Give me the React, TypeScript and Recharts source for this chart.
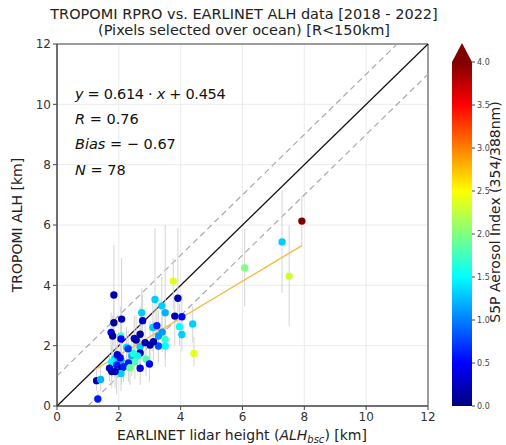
import {
  ScatterChart,
  Scatter,
  XAxis,
  YAxis,
  CartesianGrid,
  ReferenceLine,
  ReferenceArea,
  ErrorBar,
  Cell,
} from "recharts";

// EARLINET lidar height [km]
const lidarAlh = [
  1.84, 3.76, 3.91, 3.17, 2.74, 3.5, 1.84, 2.09, 1.75, 1.8, 2.06, 2.07, 2.69,
  2.5, 2.56, 3.1, 3.23, 3.81, 4.04, 4.39, 3.96, 4.04, 3.28, 3.5, 3.5, 3.28,
  3.01, 3.12, 2.69, 2.69, 2.42, 2.6, 2.88, 2.99, 2.69, 2.52, 2.31, 2.07, 1.88,
  1.77, 1.93, 2.09, 1.77, 2.07, 1.88, 1.28, 1.41, 1.32, 4.43, 7.92, 7.28, 6.07,
  7.51, 2.77, 3.39, 2.47, 2.04, 2.15, 2.36, 2.25, 1.95, 2.85, 3.4, 2.3, 1.7,
];
// TROPOMI ALH [km]
const tropomiAlh = [
  3.68, 4.14, 3.57, 3.53, 3.09, 3.09, 2.76, 2.88, 2.44, 2.32, 2.32, 2.22, 2.38,
  2.24, 2.19, 2.6, 2.66, 2.98, 2.96, 2.72, 2.63, 2.37, 2.32, 2.21, 1.99, 1.99,
  2.02, 2.13, 1.96, 1.76, 1.66, 1.66, 1.55, 1.39, 1.25, 1.47, 1.43, 1.52, 1.58,
  1.47, 1.36, 1.25, 1.14, 1.08, 1.14, 0.84, 0.88, 0.23, 1.74, 6.13, 5.44, 4.58,
  4.3, 2.83, 3.32, 1.74, 1.6, 1.3, 1.27, 1.95, 1.7, 2.1, 2.45, 1.9, 1.25,
];
// TROPOMI ALH lower / upper bound [km]
const tropomiLow = [
  2.4, 3.2, 2.6, 2.5, 2.2, 2.1, 2.0, 1.0, 1.8, 1.6, 1.7, 1.5, 1.7, 1.6, 1.5,
  1.8, 1.9, 2.0, 2.2, 2.1, 2.0, 1.8, 1.6, 1.6, 1.3, 1.4, 1.3, 1.5, 1.3, 1.1,
  1.0, 1.1, 1.0, 0.8, 0.7, 0.9, 0.8, 0.9, 1.0, 0.9, 0.4, 0.7, 0.6, 0.5, 0.6,
  0.5, 0.5, 0.1, 1.3, 5.3, 3.75, 3.3, 2.65, 2.2, 2.5, 1.2, 1.0, 0.8, 0.7, 1.3,
  1.2, 1.5, 1.8, 1.3, 0.8,
];
const tropomiHigh = [
  5.33, 4.9, 5.9, 5.9, 3.9, 6.0, 3.5, 4.9, 3.1, 3.0, 3.3, 2.9, 3.3, 3.0, 3.0,
  3.6, 3.5, 3.6, 3.7, 3.3, 3.4, 3.0, 3.2, 2.9, 2.7, 2.6, 2.8, 2.8, 2.6, 2.4,
  2.3, 2.4, 2.2, 2.0, 1.8, 2.1, 2.1, 2.2, 2.2, 2.0, 2.0, 1.9, 1.7, 1.8, 1.7,
  1.2, 1.3, 0.5, 2.3, 6.95, 7.15, 5.88, 5.99, 3.7, 4.3, 2.3, 2.2, 1.9, 1.8,
  2.6, 2.3, 2.8, 3.1, 2.5, 1.7,
];
// S5P Aerosol Index (354/388nm)
const aerosolIndex = [
  0.2, 2.4, 0.2, 1.3, 1.3, 1.2, 0.1, 0.2, 0.4, 0.1, 1.7, 0.5, 0.1, 0.4, 0.1,
  1.3, 0.6, 0.2, 0.5, 1.3, 1.5, 1.3, 1.1, 1.7, 1.5, 0.8, 0.1, 0.2, 1.3, 0.2,
  1.2, 1.5, 1.8, 0.5, 0.4, 1.8, 0.6, 1.2, 1.3, 1.5, 0.6, 0.1, 0.1, 1.3, 0.2,
  0.2, 1.2, 0.6, 2.4, 4.0, 1.3, 2.0, 2.3, 0.3, 1.3, 1.6, 0.5, 0.6, 1.9, 1.4,
  0.3, 0.2, 1.1, 0.7, 0.3,
];

const axisTicks = [0, 2, 4, 6, 8, 10, 12];
const colorbarTicks = [0, 0.5, 1, 1.5, 2, 2.5, 3, 3.5, 4];

// linear fit reported in the figure
const fitSlope = 0.614;
const fitIntercept = 0.454;
const fitRange = [1.22, 7.92];

const data = lidarAlh.map((x, i) => ({
  x,
  y: tropomiAlh[i],
  err: [tropomiAlh[i] - tropomiLow[i], tropomiHigh[i] - tropomiAlh[i]],
  ai: aerosolIndex[i],
}));

// matplotlib "jet" approximation
const jet = (v: number) => {
  const t = Math.max(0, Math.min(1, v / 4));
  const c = (k: number) =>
    Math.round(255 * Math.max(0, Math.min(1, 1.5 - Math.abs(4 * t - k))));
  return `rgb(${c(3)},${c(2)},${c(1)})`;
};

const Dot = (props: any) => {
  const { cx, cy, fill } = props;
  if (cx == null || cy == null) return null;
  return <circle cx={cx} cy={cy} r={3.7} fill={fill} />;
};

const font = "DejaVu Sans, sans-serif";
const tickStyle = { fontSize: 12, fill: "#333", fontFamily: font };

// colorbar geometry
const cbX = 452;
const cbW = 20;
const cbTop = 62;
const cbBottom = 406;
const cbY = (v: number) => cbBottom - (v / 4) * (cbBottom - cbTop);

const App = () => {
  return (
    <div
      style={{
        position: "absolute",
        left: 0,
        top: 0,
        width: 506,
        height: 445,
        background: "#fff",
      }}
    >
      <ScatterChart
        width={506}
        height={445}
        margin={{ top: 44, right: 78, bottom: 9, left: 0 }}
      >
        <CartesianGrid stroke="#ececec" ticks={axisTicks} />
        <XAxis
          type="number"
          dataKey="x"
          domain={[0, 12]}
          ticks={axisTicks}
          height={30}
          tick={tickStyle}
          tickSize={4}
          stroke="#444"
        />
        <YAxis
          type="number"
          dataKey="y"
          domain={[0, 12]}
          ticks={axisTicks}
          width={57}
          tick={tickStyle}
          tickSize={4}
          stroke="#444"
        />
        <ReferenceArea
          x1={0}
          x2={12}
          y1={0}
          y2={12}
          fill="none"
          stroke="#444"
          strokeWidth={1}
        />
        <ReferenceLine
          segment={[
            { x: 0, y: 1 },
            { x: 11, y: 12 },
          ]}
          stroke="#aaa"
          strokeDasharray="6 4"
          strokeWidth={1.2}
        />
        <ReferenceLine
          segment={[
            { x: 1, y: 0 },
            { x: 12, y: 11 },
          ]}
          stroke="#aaa"
          strokeDasharray="6 4"
          strokeWidth={1.2}
        />
        <ReferenceLine
          segment={[
            { x: 0, y: 0 },
            { x: 12, y: 12 },
          ]}
          stroke="#111"
          strokeWidth={1.2}
        />
        <Scatter data={data} isAnimationActive={false} shape={<Dot />}>
          <ErrorBar
            dataKey="err"
            direction="y"
            width={0}
            stroke="#d4d4d4"
            strokeWidth={1}
          />
          {data.map((d, i) => (
            <Cell key={`pt-${i}`} fill={jet(d.ai)} />
          ))}
        </Scatter>
        <ReferenceLine
          segment={[
            { x: fitRange[0], y: fitSlope * fitRange[0] + fitIntercept },
            { x: fitRange[1], y: fitSlope * fitRange[1] + fitIntercept },
          ]}
          stroke="#f5b946"
          strokeWidth={1.3}
        />
      </ScatterChart>

      <svg
        width={506}
        height={445}
        style={{ position: "absolute", left: 0, top: 0, pointerEvents: "none" }}
        fontFamily={font}
      >
        <defs>
          <linearGradient id="jet" x1="0" y1="1" x2="0" y2="0">
            <stop offset="0" stopColor="rgb(0,0,128)" />
            <stop offset="0.125" stopColor="rgb(0,0,255)" />
            <stop offset="0.375" stopColor="rgb(0,255,255)" />
            <stop offset="0.625" stopColor="rgb(255,255,0)" />
            <stop offset="0.875" stopColor="rgb(255,0,0)" />
            <stop offset="1" stopColor="rgb(128,0,0)" />
          </linearGradient>
        </defs>
        <text x={244} y={19} textAnchor="middle" fontSize={14.5} fill="#222">
          TROPOMI RPRO vs. EARLINET ALH data [2018 - 2022]
        </text>
        <text x={244} y={35} textAnchor="middle" fontSize={14.5} fill="#222">
          (Pixels selected over ocean) [R&lt;150km]
        </text>

        <g fontSize={14.5} fill="#111">
          <text x={75} y={99} letterSpacing={-0.3}>
            <tspan fontStyle="italic">y</tspan> = 0.614 · <tspan fontStyle="italic">x</tspan> + 0.454
          </text>
          <text x={75} y={124}>
            <tspan fontStyle="italic">R</tspan> = 0.76
          </text>
          <text x={75} y={149}>
            <tspan fontStyle="italic">Bias</tspan> = − 0.67
          </text>
          <text x={75} y={175}>
            <tspan fontStyle="italic">N</tspan> = 78
          </text>
        </g>

        <text x={242} y={440} textAnchor="middle" fontSize={14} fill="#222">
          EARLINET lidar height (<tspan fontStyle="italic">ALH</tspan>
          <tspan fontStyle="italic" fontSize={10} dy={3}>
            bsc
          </tspan>
          <tspan dy={-3}>) [km]</tspan>
        </text>
        <text
          x={0}
          y={0}
          transform="translate(22,225) rotate(-90)"
          textAnchor="middle"
          fontSize={14}
          fill="#222"
        >
          TROPOMI ALH [km]
        </text>

        <rect x={cbX} y={cbTop} width={cbW} height={cbBottom - cbTop} fill="url(#jet)" />
        <polygon
          points={`${cbX},${cbTop} ${cbX + cbW / 2},${cbTop - 19} ${cbX + cbW},${cbTop}`}
          fill="rgb(128,0,0)"
        />
        {colorbarTicks.map((v) => (
          <g key={`cb-${v}`}>
            <line x1={cbX + cbW} x2={cbX + cbW + 3} y1={cbY(v)} y2={cbY(v)} stroke="#444" />
            <text x={cbX + cbW + 5} y={cbY(v) + 3} fontSize={8} fill="#444">
              {v.toFixed(1)}
            </text>
          </g>
        ))}
        <text
          x={0}
          y={0}
          transform="translate(500,212) rotate(-90)"
          textAnchor="middle"
          fontSize={14}
          fill="#222"
        >
          S5P Aerosol Index (354/388nm)
        </text>
      </svg>
    </div>
  );
};

export default App;
